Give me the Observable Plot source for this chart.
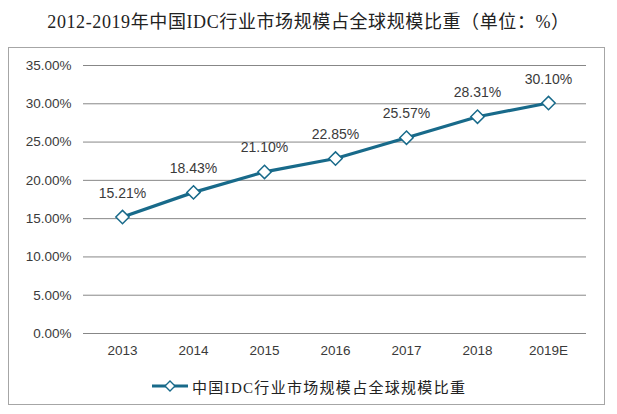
<!DOCTYPE html>
<html>
<head>
<meta charset="utf-8">
<script src="https://cdn.jsdelivr.net/npm/d3@7"></script>
<script src="https://cdn.jsdelivr.net/npm/@observablehq/plot@0.6"></script>
<style>
  html, body { margin: 0; padding: 0; background: #fff; }
  #wrap { position: relative; width: 617px; height: 414px; overflow: hidden; }
  #title { position: absolute; left: 0; width: 617px; top: 10px; text-align: center;
    font-family: "Liberation Serif", "DejaVu Serif", "Noto Sans CJK SC", serif; font-size: 18px;
    letter-spacing: 0.6px; color: #222; line-height: 24px; white-space: nowrap; }
  #box { position: absolute; left: 8px; top: 47px; width: 597px; height: 358px;
    border: 1px solid #a6a6a6; box-sizing: border-box; }
  #chart { position: absolute; left: 0; top: 0; }
  #legend { position: absolute; left: 151px; top: 375px; height: 22px; display: flex; align-items: center;
    font-family: "Liberation Serif", "Noto Sans CJK SC", serif; font-size: 15px; letter-spacing: 1.3px; color: #222; white-space: nowrap; }
  #legend svg { margin-right: 3px; }
</style>
</head>
<body>
<div id="wrap">
  <div id="box"></div>
  <div id="chart"></div>
  <div id="title"></div>
  <div id="legend"></div>
</div>
<script>
const titleText = "2012-2019年中国IDC行业市场规模占全球规模比重（单位：%）";
const seriesName = "中国IDC行业市场规模占全球规模比重";
const years = ["2013", "2014", "2015", "2016", "2017", "2018", "2019E"];
const shares = [15.21, 18.43, 21.10, 22.85, 25.57, 28.31, 30.10];
const yTicks = [0, 5, 10, 15, 20, 25, 30, 35];
const lineColor = "#186a8a";

const data = years.map((y, i) => ({year: y, value: shares[i]}));

document.getElementById("title").textContent = titleText;

const chart = Plot.plot({
  width: 617,
  height: 414,
  marginLeft: 83,
  marginRight: 31,
  marginTop: 65,
  marginBottom: 81,
  style: {fontFamily: "Liberation Sans, Arial, sans-serif", fontSize: "13px", color: "#3a3a3a", background: "transparent"},
  x: {type: "point", domain: years, padding: 0.5, label: null},
  y: {domain: [0, 35], label: null},
  marks: [
    Plot.ruleY(yTicks, {stroke: "#878787", strokeWidth: 1}),
    Plot.axisY({ticks: yTicks, tickSize: 0, tickPadding: 12, tickFormat: d => d.toFixed(2) + "%", fontSize: 13.5, label: null}),
    Plot.axisX({tickSize: 0, tickPadding: 12, fontSize: 13.5, label: null}),
    Plot.line(data, {x: "year", y: "value", stroke: lineColor, strokeWidth: 3.2}),
    Plot.dot(data, {x: "year", y: "value", symbol: "diamond2", r: 6, fill: "white", stroke: lineColor, strokeWidth: 1.5}),
    Plot.text(data, {x: "year", y: "value", text: d => d.value.toFixed(2) + "%", dy: -24, fontSize: 14, fill: "#3a3a3a"})
  ]
});
document.getElementById("chart").appendChild(chart);

const lg = document.getElementById("legend");
lg.innerHTML = `<svg width="38" height="14"><line x1="1" y1="7" x2="37" y2="7" stroke="${lineColor}" stroke-width="3.2"/><path d="M19,2 L24,7 L19,12 L14,7 Z" fill="white" stroke="${lineColor}" stroke-width="1.4"/></svg><span></span>`;
lg.querySelector("span").textContent = seriesName;
</script>
</body>
</html>
